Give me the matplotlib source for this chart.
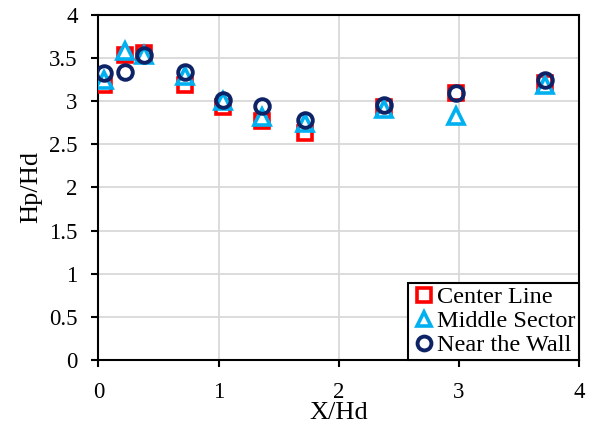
import matplotlib
matplotlib.use("Agg")
import matplotlib.pyplot as plt

x = [0.05, 0.22, 0.38, 0.72, 1.04, 1.36, 1.72, 2.38, 2.98, 3.72]
center_line = [3.19, 3.54, 3.56, 3.19, 2.93, 2.77, 2.63, 2.93, 3.09, 3.21]
middle_sector = [3.25, 3.58, 3.53, 3.29, 3.00, 2.82, 2.75, 2.91, 2.83, 3.19]
near_wall = [3.33, 3.34, 3.53, 3.34, 3.01, 2.94, 2.78, 2.95, 3.10, 3.25]

plt.rcParams['font.family'] = ['Liberation Serif', 'DejaVu Serif']

fig = plt.figure(figsize=(5.89, 4.25), dpi=100)
ax = fig.add_axes([0.167, 0.153, 0.816, 0.812])

ax.plot(x, center_line, linestyle='none', marker='s', markersize=10.5,
        markerfacecolor='white', markeredgecolor='#ff0000', markeredgewidth=2.6,
        label='Center Line', zorder=3)
ax.plot(x, middle_sector, linestyle='none', marker='^', markersize=11,
        markerfacecolor='white', markeredgecolor='#00b0f0', markeredgewidth=2.6,
        label='Middle Sector', zorder=4)
ax.plot(x, near_wall, linestyle='none', marker='o', markersize=10.5,
        markerfacecolor='none', markeredgecolor='#0d2366', markeredgewidth=2.8,
        label='Near the Wall', zorder=5)

ax.set_xlim(0, 4)
ax.set_ylim(0, 4)
ax.set_xticks([0, 1, 2, 3, 4])
ax.set_yticks([0, 0.5, 1, 1.5, 2, 2.5, 3, 3.5, 4])
ax.set_xticklabels(['0', '1', '2', '3', '4'])
ax.set_yticklabels(['0', '0.5', '1', '1.5', '2', '2.5', '3', '3.5', '4'])
ax.grid(True, color='#d9d9d9', linewidth=1.3)
ax.set_axisbelow(True)
for s in ax.spines.values():
    s.set_color('black')
    s.set_linewidth(1.5)
ax.tick_params(axis='both', direction='out', length=5, width=1.5,
               labelsize=16.5, colors='black')
ax.tick_params(axis='y', pad=10)
ax.tick_params(axis='x', pad=11)

ax.set_xlabel('X/Hd', fontsize=19, labelpad=-1)
ax.set_ylabel('Hp/Hd', fontsize=19, labelpad=5)

leg = ax.legend(loc='lower right', fontsize=17.5, frameon=True, fancybox=False,
                edgecolor='black', framealpha=1, borderaxespad=0,
                handlelength=1.0, handletextpad=0.05, borderpad=0.15,
                labelspacing=0.08, markerscale=0.95)
leg.get_frame().set_linewidth(1.5)

fig.savefig('out.png', dpi=100)
